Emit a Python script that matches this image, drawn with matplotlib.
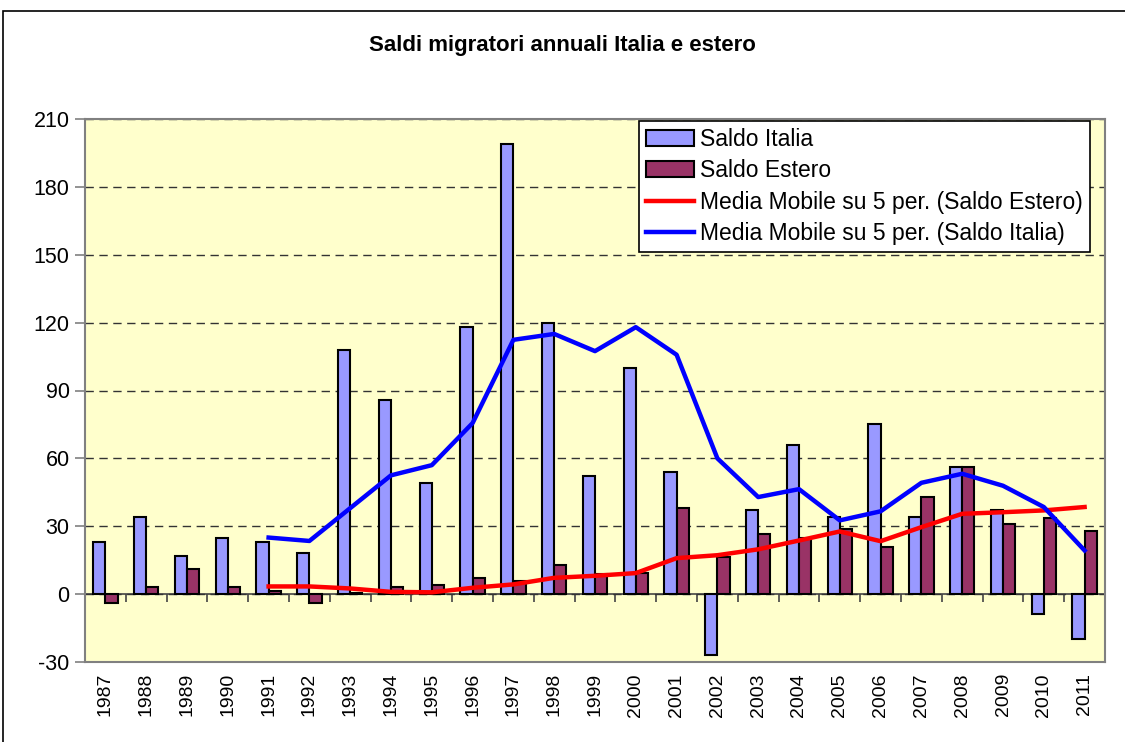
import matplotlib
matplotlib.use("Agg")
import matplotlib.pyplot as plt
from matplotlib.patches import Rectangle
import numpy as np

plt.rcParams['font.family'] = ['Liberation Sans', 'DejaVu Sans']
plt.rcParams['axes.unicode_minus'] = False

# dati
anni = [str(a) for a in range(1987, 2012)]
saldo_italia = [23, 34, 17, 25, 23, 18, 108, 86, 49, 118, 199, 120, 52,
                100, 54, -27, 37, 66, 34, 75, 34, 56, 37, -9, -20]
saldo_estero = [-4, 3, 11, 3, 1.5, -4, 0.5, 3, 4, 7, 6, 13, 9,
                9.5, 38, 16.5, 26.5, 25, 29, 21, 43, 56, 31, 33.5, 28]
mm_estero = [None, None, None, None, 3.4, 3.4, 2.5, 1, 0.8, 2.8, 4.3, 7.2,
             8.1, 9.3, 15.9, 17.2, 19.8, 23.7, 27.7, 23.4, 29.6, 35.5, 36.2,
             37, 38.5]
mm_italia = [None, None, None, None, 25, 23.5, 38, 52.5, 57, 75.6, 112.4,
             115, 107.4, 118, 105.8, 60, 42.9, 46.4, 32.6, 36.6, 49.2, 53.2,
             47.9, 38.5, 19.3]

x = np.arange(len(anni))
w = 0.3

fig = plt.figure(figsize=(11.25, 7.42), dpi=100)
ax = fig.add_axes([85 / 1125, 80 / 742, 1020 / 1125, 543 / 742])
ax.set_facecolor('#FFFFCC')

b1 = ax.bar(x - w / 2, saldo_italia, w, color='#9999FF', edgecolor='black',
            linewidth=1.5, zorder=3, label='Saldo Italia')
b2 = ax.bar(x + w / 2, saldo_estero, w, color='#993366', edgecolor='black',
            linewidth=1.5, zorder=3, label='Saldo Estero')

mm_e = np.array([np.nan if v is None else v for v in mm_estero])
mm_i = np.array([np.nan if v is None else v for v in mm_italia])
l1, = ax.plot(x, mm_e, color='#FF0000', lw=3.2, zorder=4,
              label='Media Mobile su 5 per. (Saldo Estero)')
l2, = ax.plot(x, mm_i, color='#0000FF', lw=3.2, zorder=5,
              label='Media Mobile su 5 per. (Saldo Italia)')

ax.set_xlim(-0.5, len(anni) - 0.5)
ax.set_ylim(-30, 210)
ax.set_yticks(range(-30, 211, 30))
ax.yaxis.grid(True, color='#333333', linestyle=(0, (6, 4)), linewidth=1)
ax.set_axisbelow(True)
for s in ax.spines.values():
    s.set_color('#808080')
    s.set_linewidth(1.5)
ax.tick_params(axis='y', labelsize=15.5, length=7, color='#808080', width=1.2, pad=4)
ax.set_xticks(x)
ax.set_xticklabels(anni, rotation=90, fontsize=14)
ax.tick_params(axis='x', length=0, pad=8)

# asse delle categorie sullo zero
sec = ax.secondary_xaxis(30 / 240)
sec.set_xticks(np.arange(-0.5, len(anni), 1.0))
sec.set_xticklabels([])
sec.tick_params(length=6, width=1.2, color='#444444')
sec.spines['bottom'].set_color('#444444')
sec.spines['bottom'].set_linewidth(1.2)

leg = ax.legend(handles=[b1, b2, l1, l2], loc='upper right',
                bbox_to_anchor=(0.985, 0.996), fontsize=16.5, frameon=True,
                fancybox=False, edgecolor='black', framealpha=1,
                handlelength=2.1, handletextpad=0.25, labelspacing=0.36,
                borderpad=0.3, borderaxespad=0)
leg.get_frame().set_linewidth(1.2)

fig.text(0.5, 1 - 45 / 742, 'Saldi migratori annuali Italia e estero',
         ha='center', va='center', fontsize=16, fontweight='bold')

fig.patches.append(Rectangle((3 / 1125, -0.1), 1.2, 1.1 - 11 / 742,
                             transform=fig.transFigure, fill=False,
                             edgecolor='black', linewidth=1.2))

fig.savefig('out.png', dpi=100)
